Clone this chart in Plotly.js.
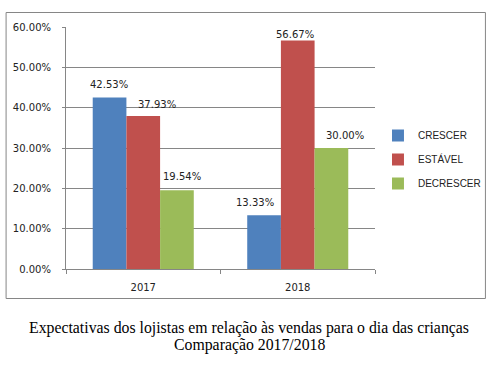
<!DOCTYPE html>
<html>
<head>
<meta charset="utf-8">
<script src="https://cdn.plot.ly/plotly-3.0.1.min.js"></script>
<style>
html,body{margin:0;padding:0;background:#fff;}
#chart{width:498px;height:379px;}
</style>
</head>
<body>
<div id="chart"></div>
<script>
// ---- data ----
const categories = ["2017", "2018"];
const seriesNames = ["CRESCER", "ESTÁVEL", "DECRESCER"];
const crescer = [0.4253, 0.1333];
const estavel = [0.3793, 0.5667];
const decrescer = [0.1954, 0.3000];
const yTickValues = [0, 0.1, 0.2, 0.3, 0.4, 0.5, 0.6];
const captionLines = ["Expectativas dos lojistas em relação às vendas para o dia das crianças", "Comparação 2017/2018"];

// ---- styles ----
const colors = ["#4F81BD", "#C0504D", "#9BBB59"];
const labelDx = [[0, -9], [14, -3], [5, 13]];   // label nudges (px) per series/category
const labelDy = [[13, 13], [12, 6], [14, 13]];
const gray = "#868686";
const font = {family: "DejaVu Sans, Verdana, sans-serif", size: 10, color: "#222"};

const seriesValues = [crescer, estavel, decrescer];
const W = 498, H = 379;
const margin = {l: 66, r: 120, t: 27, b: 110};
const plotW = W - margin.l - margin.r;
const plotH = H - margin.t - margin.b;
const bargap = 0.346;
const barPx = plotW / categories.length * (1 - bargap) / seriesValues.length;

const traces = seriesValues.map((vals, i) => ({
  type: "bar",
  name: seriesNames[i],
  x: categories,
  y: vals,
  marker: {color: colors[i], line: {width: 0}},
  legendgroup: "g" + i,
  hoverinfo: "none"
}));

const annotations = [];
seriesValues.forEach((vals, i) => {
  vals.forEach((v, j) => {
    annotations.push({
      x: j, y: v, xref: "x", yref: "y",
      text: (v * 100).toFixed(2) + "%",
      showarrow: false,
      xshift: (i - (seriesValues.length - 1) / 2) * barPx + labelDx[i][j],
      yshift: labelDy[i][j],
      font: font
    });
  });
});
// caption
captionLines.forEach((t, k) => {
  annotations.push({
    xref: "paper", yref: "paper",
    x: (251 - margin.l) / plotW, y: (-(328 + 17 * k) + (H - margin.b)) / plotH,
    text: t, showarrow: false, xanchor: "center", yanchor: "middle",
    font: {family: "Liberation Serif, Times New Roman, serif", size: 15.8, color: "#000"}
  });
});

const toPX = px => (px - margin.l) / plotW;
const toPY = py => (H - margin.b - py) / plotH;

const layout = {
  width: W, height: H,
  margin: margin,
  paper_bgcolor: "#fff",
  plot_bgcolor: "#fff",
  barmode: "group",
  bargap: bargap,
  bargroupgap: 0,
  font: font,
  showlegend: true,
  legend: {
    x: toPX(381), y: toPY(121), xanchor: "left", yanchor: "top",
    font: {family: "Liberation Sans, Arial, sans-serif", size: 10, color: "#222"},
    tracegroupgap: 5, bgcolor: "rgba(0,0,0,0)"
  },
  xaxis: {
    type: "category",
    range: [-0.5, categories.length - 0.5],
    tickson: "boundaries",
    ticks: "outside", ticklen: 4, tickcolor: gray,
    showline: true, linecolor: gray, linewidth: 1,
    showgrid: false, zeroline: false,
    tickfont: font,
    ticklabelstandoff: 9,
    automargin: false,
    fixedrange: true
  },
  yaxis: {
    range: [0, 0.6],
    tickvals: yTickValues,
    tickformat: ".2%",
    ticks: "outside", ticklen: 3, tickcolor: gray,
    showline: true, linecolor: gray, linewidth: 1,
    showgrid: true, gridcolor: gray, gridwidth: 1,
    zeroline: false,
    tickfont: font,
    ticklabelstandoff: 9,
    automargin: false,
    fixedrange: true
  },
  shapes: [{
    type: "rect", xref: "paper", yref: "paper",
    x0: toPX(5.5), x1: toPX(489.5), y0: toPY(298.5), y1: toPY(12.5),
    line: {color: gray, width: 1}, fillcolor: "rgba(0,0,0,0)", layer: "below"
  }],
  annotations: annotations
};

Plotly.newPlot("chart", traces, layout, {displayModeBar: false, staticPlot: true});
</script>
</body>
</html>
